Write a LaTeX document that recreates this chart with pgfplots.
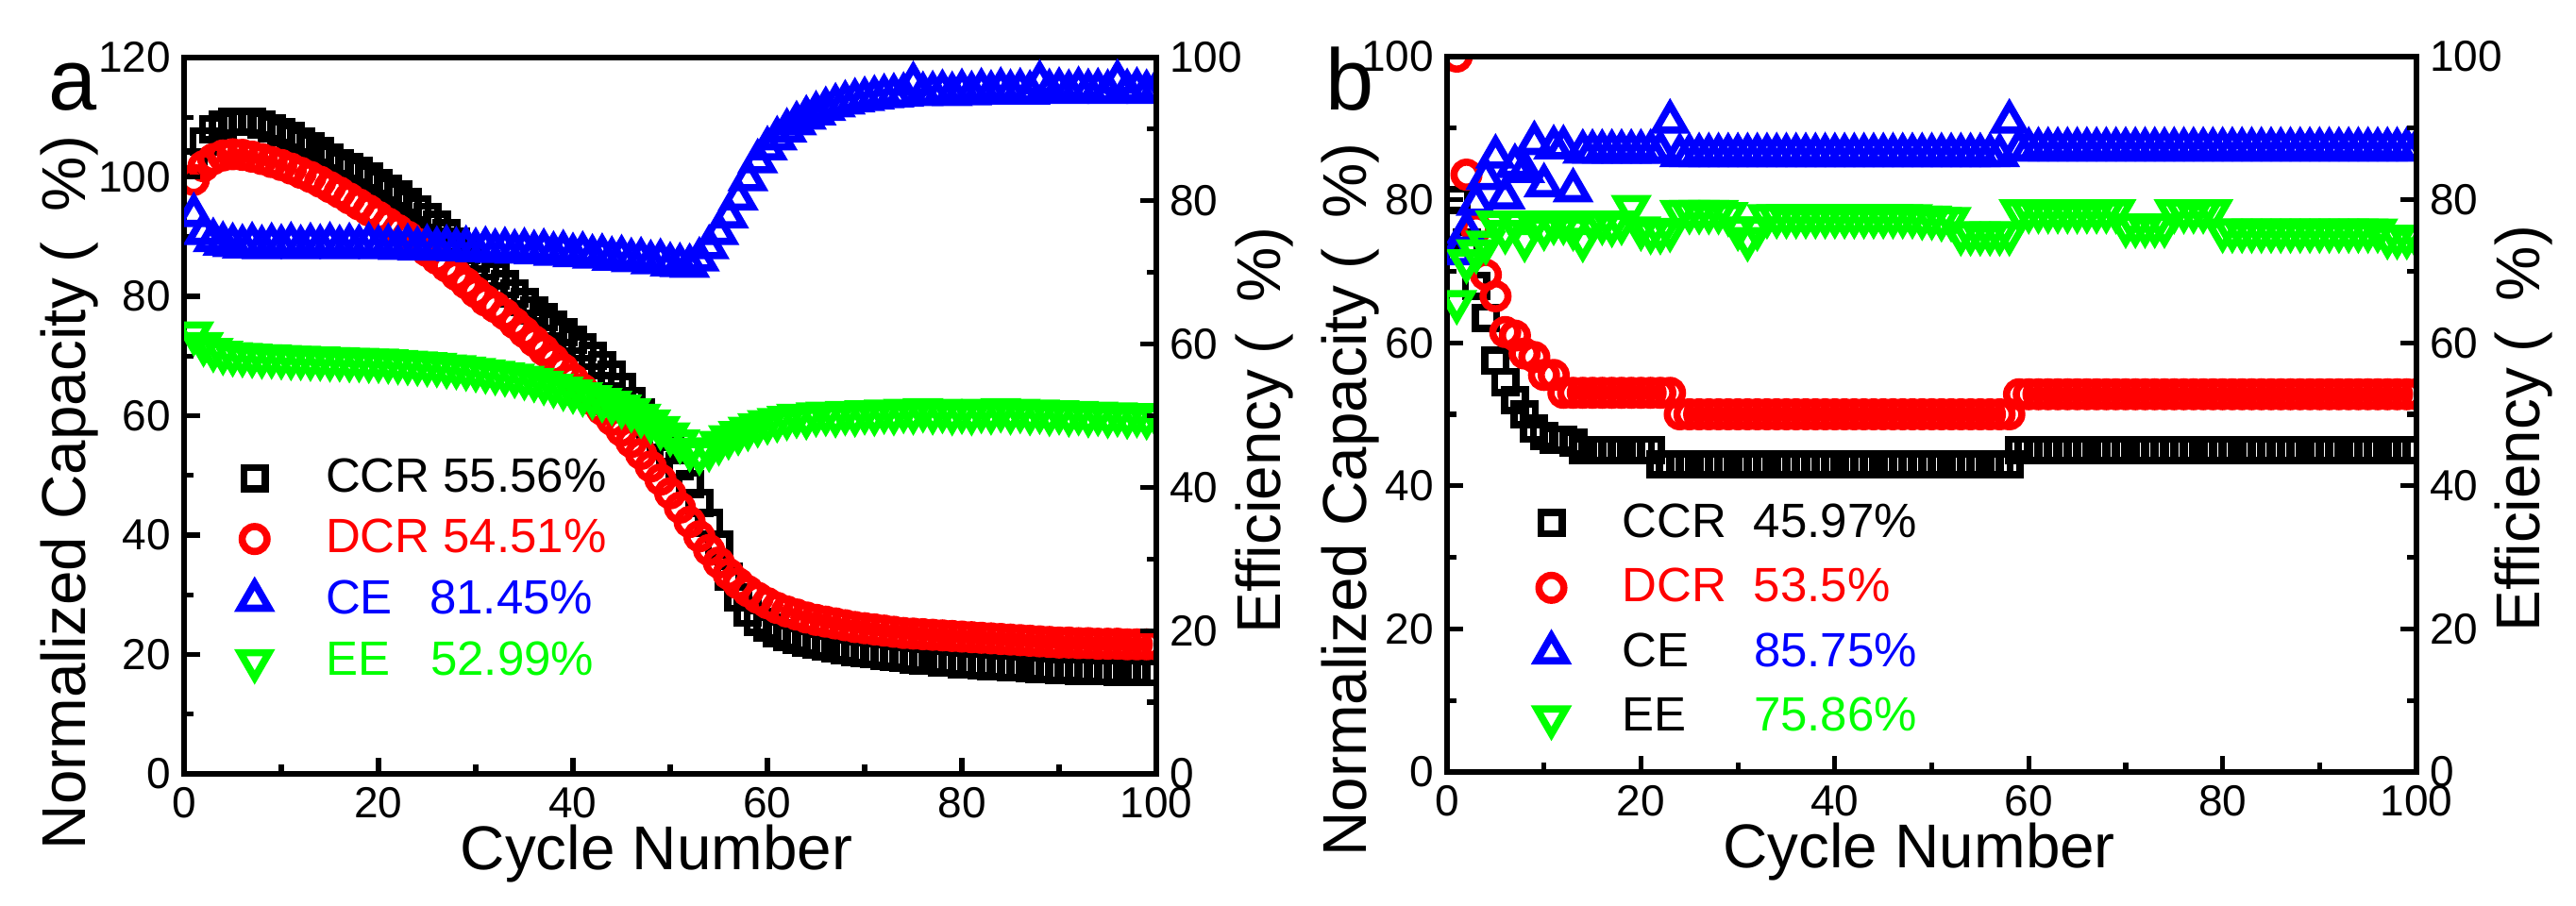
\documentclass[border=0pt]{standalone}
\usepackage{pgfplots}
\pgfplotsset{compat=1.18}
\usepackage{pgfplotstable}
\usepackage{fontspec}
\setmainfont{Liberation Sans}
\definecolor{cred}{RGB}{255,0,0}
\definecolor{cblue}{RGB}{0,0,255}
\definecolor{cgreen}{RGB}{0,255,0}

\pgfplotstableread{
x ccr dcr ce ee
1 102.5 99.5 78.0 61.5
2 106.0 101.8 75.5 60.0
3 108.0 103.0 74.5 59.2
4 108.8 103.6 74.0 58.8
5 109.2 103.8 73.8 58.6
6 109.3 103.7 73.6 58.5
7 109.2 103.4 73.9 58.4
8 108.8 103.0 73.5 58.3
9 108.2 102.5 73.8 58.3
10 107.5 102.0 73.6 58.2
11 106.8 101.4 73.9 58.1
12 106.0 100.7 73.5 58.1
13 105.2 100.0 73.8 58.0
14 104.3 99.2 73.6 58.0
15 103.3 98.3 73.9 57.9
16 102.3 97.4 73.5 57.9
17 101.6 96.4 73.8 57.8
18 101.0 95.4 73.6 57.8
19 100.0 94.4 73.9 57.7
20 99.0 93.3 73.5 57.7
21 98.0 92.2 73.7 57.6
22 97.0 91.1 73.4 57.5
23 95.8 90.0 73.7 57.4
24 94.6 88.8 73.3 57.3
25 93.3 87.6 73.6 57.2
26 92.0 86.3 73.3 57.1
27 90.6 85.0 73.5 56.9
28 89.2 83.6 73.2 56.8
29 87.8 82.2 73.4 56.6
30 86.4 80.7 73.1 56.4
31 85.0 79.3 73.3 56.2
32 83.5 78.2 73.0 56.0
33 82.0 77.0 73.2 55.8
34 80.5 75.5 72.9 55.6
35 79.0 74.0 73.1 55.3
36 77.7 72.5 72.8 55.0
37 76.5 71.0 73.0 54.6
38 75.2 69.4 72.6 54.2
39 74.0 67.8 72.8 53.8
40 72.7 66.1 72.4 53.4
41 71.4 64.4 72.6 53.0
42 70.0 62.7 72.2 52.6
43 68.5 61.0 72.3 52.2
44 66.8 59.3 71.9 51.8
45 64.8 57.5 72.1 51.3
46 62.5 55.6 71.7 50.8
47 60.5 53.6 71.8 50.0
48 58.5 51.5 71.4 49.2
49 56.5 49.3 71.6 48.3
50 54.2 47.0 71.1 47.4
51 51.5 44.6 71.0 46.4
52 48.6 42.2 70.9 45.3
53 45.4 39.8 71.8 44.8
54 42.0 37.5 73.5 45.3
55 38.4 35.4 75.5 46.2
56 33.0 33.5 77.8 47.0
57 29.5 31.9 80.3 47.6
58 27.0 30.6 83.0 48.2
59 25.5 29.5 85.5 48.7
60 24.5 28.6 87.3 49.1
61 23.6 27.8 88.7 49.4
62 23.0 27.2 89.8 49.7
63 22.5 26.7 90.8 50.0
64 22.0 26.2 91.6 49.8
65 21.6 25.8 92.2 50.2
66 21.3 25.5 92.8 50.3
67 21.0 25.2 93.3 50.1
68 20.7 24.9 93.7 50.4
69 20.4 24.6 94.0 50.2
70 20.2 24.4 94.2 50.5
71 20.0 24.2 94.4 50.3
72 19.8 24.0 94.6 50.6
73 19.6 23.8 94.7 50.4
74 19.4 23.6 94.8 50.7
75 19.2 23.5 96.3 50.5
76 19.0 23.4 94.9 50.8
77 18.9 23.3 95.0 50.5
78 18.7 23.2 95.2 50.7
79 18.6 23.1 94.9 50.4
80 18.4 23.0 95.3 50.6
81 18.3 22.9 95.0 50.4
82 18.2 22.8 95.4 50.7
83 18.1 22.7 95.1 50.5
84 18.0 22.6 95.5 50.8
85 17.9 22.5 95.2 50.5
86 17.8 22.4 95.4 50.7
87 17.7 22.3 95.1 50.4
88 17.6 22.2 96.5 50.6
89 17.5 22.1 95.3 50.3
90 17.4 22.0 95.5 50.5
91 17.4 22.0 95.2 50.2
92 17.3 21.9 95.6 50.4
93 17.3 21.9 95.3 50.1
94 17.2 21.8 95.4 50.3
95 17.2 21.8 95.2 50.0
96 17.1 21.8 96.6 50.2
97 17.1 21.7 95.3 49.9
98 17.1 21.7 95.5 50.1
99 17.0 21.7 95.2 49.8
100 17.0 21.7 95.4 50.0
}\dataA

\pgfplotstableread{
x ccr dcr ce ee
1 80.0 100.0 72.5 65.7
2 74.0 83.5 75.5 71.4
3 68.0 76.0 79.4 72.8
4 63.5 69.5 83.0 74.0
5 57.5 66.5 86.0 76.8
6 54.5 61.5 80.3 75.5
7 52.0 61.0 84.7 76.8
8 50.0 58.5 84.0 74.4
9 48.0 58.0 87.9 76.8
10 47.0 55.5 82.0 76.0
11 46.5 55.5 87.3 76.8
12 46.5 53.0 87.3 76.8
13 46.0 53.0 81.3 76.0
14 45.0 53.0 86.7 74.4
15 45.0 53.0 86.7 76.8
16 45.0 53.0 86.7 76.8
17 45.0 53.0 86.7 76.5
18 45.0 53.0 86.7 76.8
19 45.0 53.0 86.7 79.0
20 45.0 53.0 86.7 76.0
21 45.0 53.0 86.7 75.5
22 43.0 53.0 86.7 75.5
23 43.0 53.0 90.9 75.8
24 43.0 50.0 86.2 78.3
25 43.0 50.0 86.2 78.3
26 43.0 50.0 86.2 78.3
27 43.0 50.0 86.2 78.3
28 43.0 50.0 86.2 78.3
29 43.0 50.0 86.2 78.0
30 43.0 50.0 86.2 76.0
31 43.0 50.0 86.2 74.5
32 43.0 50.0 86.2 76.0
33 43.0 50.0 86.2 77.7
34 43.0 50.0 86.2 77.7
35 43.0 50.0 86.2 77.7
36 43.0 50.0 86.2 77.7
37 43.0 50.0 86.2 77.7
38 43.0 50.0 86.2 77.7
39 43.0 50.0 86.2 77.7
40 43.0 50.0 86.2 77.7
41 43.0 50.0 86.2 77.7
42 43.0 50.0 86.2 77.7
43 43.0 50.0 86.2 77.7
44 43.0 50.0 86.2 77.7
45 43.0 50.0 86.2 77.7
46 43.0 50.0 86.2 77.7
47 43.0 50.0 86.2 77.7
48 43.0 50.0 86.2 77.7
49 43.0 50.0 86.2 77.5
50 43.0 50.0 86.2 77.5
51 43.0 50.0 86.2 77.3
52 43.0 50.0 86.2 77.3
53 43.0 50.0 86.2 75.3
54 43.0 50.0 86.2 75.3
55 43.0 50.0 86.2 75.3
56 43.0 50.0 86.2 75.3
57 43.0 50.0 86.2 75.3
58 43.0 50.0 90.9 75.3
59 45.0 52.8 87.0 78.4
60 45.0 52.8 87.0 78.4
61 45.0 52.8 87.0 78.4
62 45.0 52.8 87.0 78.4
63 45.0 52.8 87.0 78.4
64 45.0 52.8 87.0 78.4
65 45.0 52.8 87.0 78.4
66 45.0 52.8 87.0 78.4
67 45.0 52.8 87.0 78.4
68 45.0 52.8 87.0 78.4
69 45.0 52.8 87.0 78.4
70 45.0 52.8 87.0 76.4
71 45.0 52.8 87.0 76.4
72 45.0 52.8 87.0 76.4
73 45.0 52.8 87.0 76.4
74 45.0 52.8 87.0 76.4
75 45.0 52.8 87.0 78.4
76 45.0 52.8 87.0 78.4
77 45.0 52.8 87.0 78.4
78 45.0 52.8 87.0 78.4
79 45.0 52.8 87.0 78.4
80 45.0 52.8 87.0 75.7
81 45.0 52.8 87.0 75.7
82 45.0 52.8 87.0 75.7
83 45.0 52.8 87.0 75.7
84 45.0 52.8 87.0 75.7
85 45.0 52.8 87.0 75.7
86 45.0 52.8 87.0 75.7
87 45.0 52.8 87.0 75.7
88 45.0 52.8 87.0 75.7
89 45.0 52.8 87.0 75.7
90 45.0 52.8 87.0 75.7
91 45.0 52.8 87.0 75.7
92 45.0 52.8 87.0 75.7
93 45.0 52.8 87.0 75.7
94 45.0 52.8 87.0 75.7
95 45.0 52.8 87.0 75.7
96 45.0 52.8 87.0 75.7
97 45.0 52.8 87.0 74.8
98 45.0 52.8 87.0 74.8
99 45.0 52.8 87.0 74.8
100 45.0 52.8 87.0 74.8
}\dataB

\pgfplotsset{
  base/.style={scale only axis, xmin=0, xmax=100, axis on top,
    clip marker paths=true,
    axis line style={line width=1.6pt},
    every tick/.style={line width=1.3pt, black},
    major tick length=4.25pt, minor tick length=2.5pt, tick align=inside,
    tick label style={font=\fontsize{11.5}{12}\selectfont},
    /pgf/number format/assume math mode=true,
    label style={font=\fontsize{16.4}{18}\selectfont},
    legend cell align=left,
    legend style={draw=none, fill=none, inner sep=0pt, anchor=north west,
      font=\fontsize{12.75}{14}\selectfont, row sep=1.75pt,
      /tikz/every odd column/.append style={column sep=13pt}},
  },
  sq/.style={black, only marks, mark=square, mark size=2.8pt, line width=1.9pt,
    mark options={line width=1.9pt}},
  ci/.style={cred, only marks, mark=o, mark size=3.3pt, line width=1.9pt,
    mark options={line width=1.9pt}},
  tu/.style={cblue, only marks, mark=triangle, mark size=4.4pt, line width=1.9pt,
    mark options={line width=1.9pt}},
  td/.style={cgreen, only marks, mark=triangle, mark size=4.4pt, line width=1.9pt,
    mark options={line width=1.9pt, rotate=180}},
}

\begin{document}
\begin{tikzpicture}
\useasboundingbox (0,0) rectangle (682.25pt,240pt);

% ---------- panel a ----------
\begin{axis}[base, at={(48.75pt,35pt)}, anchor=south west, width=257.5pt, height=189.75pt,
  ymin=0, ymax=120,
  xtick={0,20,...,100}, minor xtick={10,30,...,90},
  ytick={0,20,...,120}, minor ytick={10,30,...,110},
  xtick pos=bottom, ytick pos=left,
  xlabel={Cycle Number},
  xlabel style={at={(axis description cs:0.486,0)}, anchor=base, yshift=-25.5pt},
  ylabel={Normalized Capacity\hspace{0.25em}(\hspace{0.5em}\%)},
  ylabel style={at={(axis description cs:-0.101,0.3926)}, anchor=base}]
\addplot[sq] table[x=x, y=ccr] {\dataA};
\addplot[ci] table[x=x, y=dcr] {\dataA};
\end{axis}
\begin{axis}[base, at={(48.75pt,35pt)}, anchor=south west, width=257.5pt, height=189.75pt,
  ymin=0, ymax=100, axis x line=none, axis y line*=right,
  ytick={0,20,...,100}, minor ytick={10,30,...,90},
  ylabel={Efficiency\hspace{0.25em}(\hspace{0.5em}\%)},
  ylabel style={at={(axis description cs:1.128,0.4796)}, anchor=base},
  legend style={at={(axis description cs:0.057,0.452)}}]
\addlegendimage{sq}
\addlegendentry{CCR 55.56\%}
\addlegendimage{ci}
\addlegendentry{\textcolor{cred}{DCR 54.51\%}}
\addplot[tu] table[x=x, y=ce] {\dataA};
\addlegendentry{\textcolor{cblue}{\makebox[2.16em][l]{CE}81.45\%}}
\addplot[td] table[x=x, y=ee] {\dataA};
\addlegendentry{\textcolor{cgreen}{\makebox[2.18em][l]{EE}52.99\%}}
\end{axis}

% ---------- panel b ----------
\begin{axis}[base, at={(383.25pt,35.5pt)}, anchor=south west, width=256.75pt, height=189.5pt,
  ymin=0, ymax=100,
  xtick={0,20,...,100}, minor xtick={10,30,...,90},
  ytick={0,20,...,100}, minor ytick={10,30,...,90},
  xtick pos=bottom, ytick pos=left,
  xlabel={Cycle Number},
  xlabel style={at={(axis description cs:0.487,0)}, anchor=base, yshift=-25.5pt},
  ylabel={Normalized Capacity\hspace{0.25em}(\hspace{0.5em}\%)},
  ylabel style={at={(axis description cs:-0.0828,0.381)}, anchor=base}]
\addplot[sq] table[x=x, y=ccr] {\dataB};
\addplot[ci] table[x=x, y=dcr] {\dataB};
\end{axis}
\begin{axis}[base, at={(383.25pt,35.5pt)}, anchor=south west, width=256.75pt, height=189.5pt,
  ymin=0, ymax=100, axis x line=none, axis y line*=right,
  ytick={0,20,...,100}, minor ytick={10,30,...,90},
  ylabel={Efficiency\hspace{0.25em}(\hspace{0.5em}\%)},
  ylabel style={at={(axis description cs:1.1266,0.480)}, anchor=base},
  legend style={at={(axis description cs:0.092,0.387)}, row sep=2.75pt}]
\addlegendimage{sq}
\addlegendentry{\makebox[2.73em][l]{CCR}45.97\%}
\addlegendimage{ci}
\addlegendentry{\textcolor{cred}{\makebox[2.73em][l]{DCR}53.5\%}}
\addplot[tu] table[x=x, y=ce] {\dataB};
\addlegendentry{\makebox[2.73em][l]{CE}\textcolor{cblue}{85.75\%}}
\addplot[td] table[x=x, y=ee] {\dataB};
\addlegendentry{\makebox[2.73em][l]{EE}\textcolor{cgreen}{75.86\%}}
\end{axis}

\node[anchor=base west, inner sep=0pt, font=\fontsize{23}{24}\selectfont] at (12.75pt,210.75pt) {a};
\node[anchor=base west, inner sep=0pt, font=\fontsize{23}{24}\selectfont] at (351pt,210.75pt) {b};
\end{tikzpicture}
\end{document}
